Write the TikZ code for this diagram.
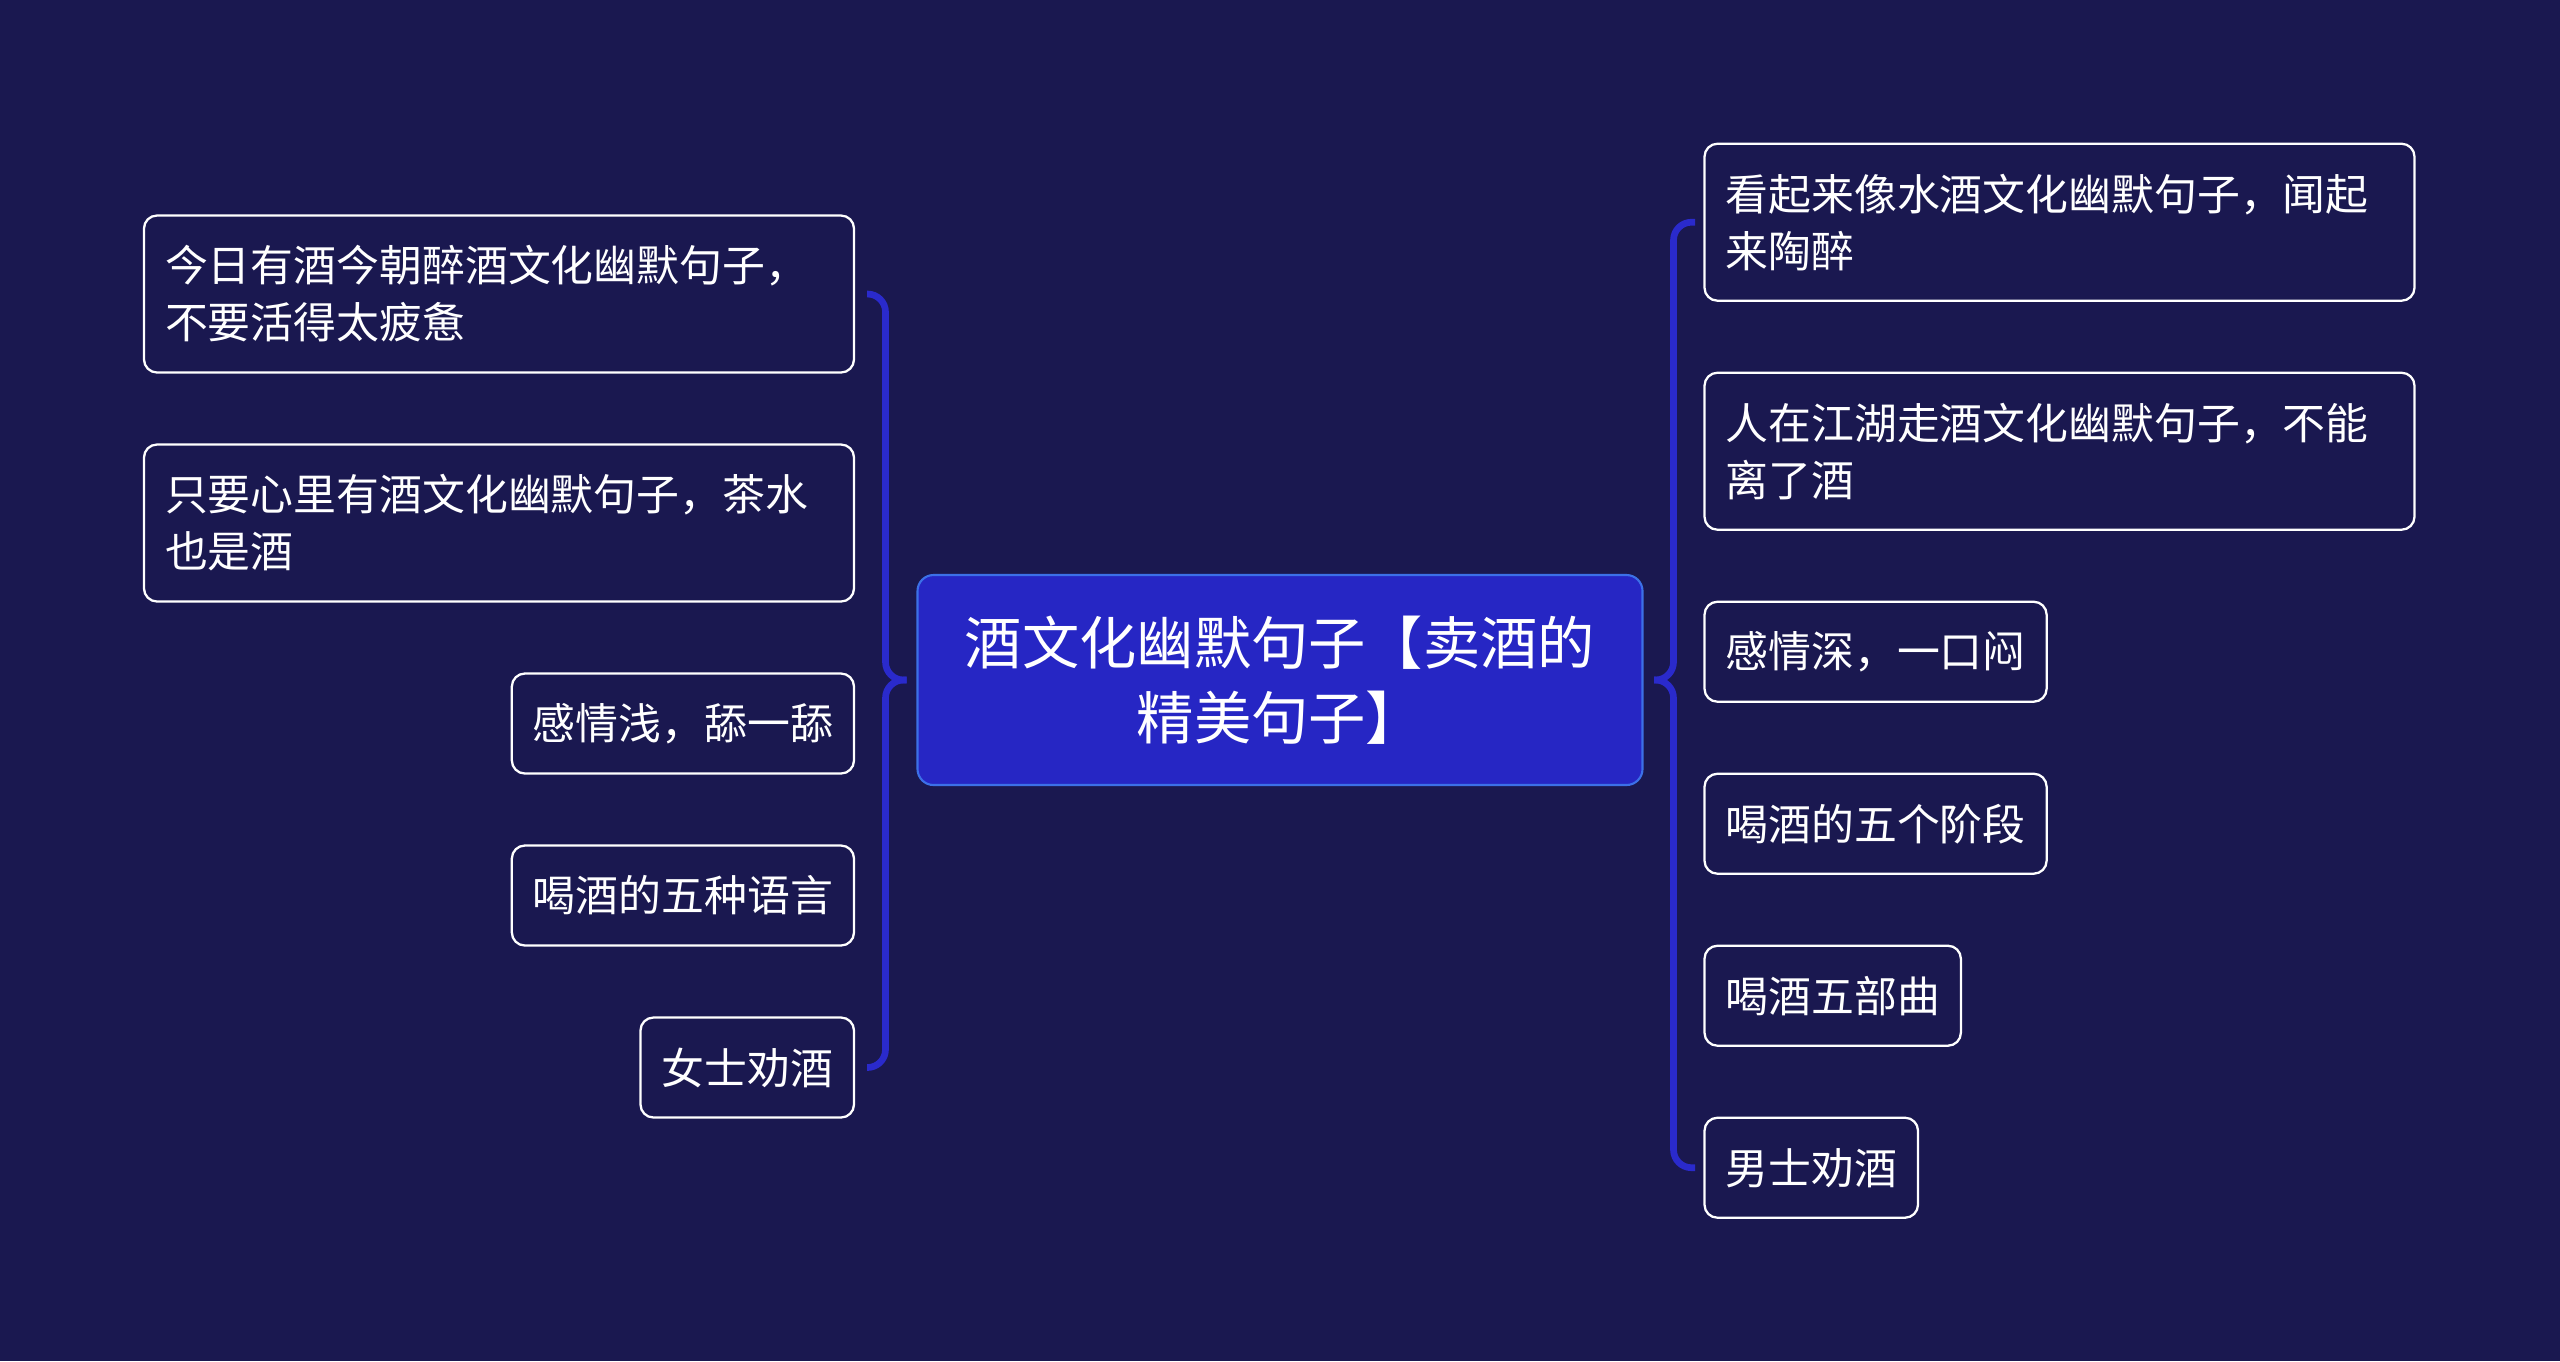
\documentclass[tikz,border=0pt]{standalone}
\usepackage{fontspec}
\newfontfamily\cjkfont{Noto Sans CJK SC}
\usetikzlibrary{positioning,calc}
\definecolor{bgnavy}{RGB}{26,24,80}
\definecolor{rootblue}{RGB}{38,38,196}
\definecolor{rootedge}{RGB}{60,112,232}
\definecolor{bracketblue}{RGB}{42,42,204}
\tikzset{
  leafbox/.style={draw=white, fill=bgnavy, text=white, rounded corners=1.3mm, line width=0.65pt, outer sep=0pt, minimum height=1cm, inner xsep=0.21cm, inner ysep=0pt, font=\cjkfont\fontsize{12.2pt}{16.2pt}\selectfont},
  leafwide/.style={leafbox, text width=6.68cm, align=left, minimum height=1.57cm},
  rootbox/.style={draw=rootedge, fill=rootblue, text=white, rounded corners=1.6mm, line width=0.6pt, outer sep=0pt, minimum width=7.25cm, minimum height=2.1cm, align=center, font=\cjkfont\fontsize{16.3pt}{21.3pt}\selectfont},
  bracket/.style={draw=bracketblue, line width=1.9pt, rounded corners=1.8mm},
}

\begin{document}
\begin{tikzpicture}[node distance=0.72cm and 0cm]
    \fill[bgnavy] (0,0) rectangle (25.6,-13.61);
    \useasboundingbox (0,0) rectangle (25.6,-13.61);
    \node[rootbox] (root) at (12.8,-6.8) {酒文化幽默句子【卖酒的\\精美句子】};
    \node[leafwide, anchor=north east] (l1) at (8.54,-2.155) {今日有酒今朝醉酒文化幽默句子，\\不要活得太疲惫};
    \node[leafwide, below left=of l1.south east] (l2) {只要心里有酒文化幽默句子，茶水\\也是酒};
    \node[leafbox, below left=of l2.south east] (l3) {感情浅，舔一舔};
    \node[leafbox, below left=of l3.south east] (l4) {喝酒的五种语言};
    \node[leafbox, below left=of l4.south east] (l5) {女士劝酒};
    \node[leafwide, anchor=north west] (r1) at (17.045,-1.437) {看起来像水酒文化幽默句子，闻起\\来陶醉};
    \node[leafwide, below right=of r1.south west] (r2) {人在江湖走酒文化幽默句子，不能\\离了酒};
    \node[leafbox, below right=of r2.south west] (r3) {感情深，一口闷};
    \node[leafbox, below right=of r3.south west] (r4) {喝酒的五个阶段};
    \node[leafbox, below right=of r4.south west] (r5) {喝酒五部曲};
    \node[leafbox, below right=of r5.south west] (r6) {男士劝酒};
    \draw[bracket] ([xshift=1.3mm]l1.east) -| ([xshift=-3.2mm]root.west) -- ([xshift=-1.1mm]root.west);
    \draw[bracket] ([xshift=-1.1mm]root.west) -- ([xshift=-3.2mm]root.west) |- ([xshift=1.3mm]l5.east);
    \draw[bracket] ([xshift=-0.95mm]r1.west) -| ([xshift=3.1mm]root.east) -- ([xshift=1.15mm]root.east);
    \draw[bracket] ([xshift=1.15mm]root.east) -- ([xshift=3.1mm]root.east) |- ([xshift=-0.95mm]r6.west);
\end{tikzpicture}
\end{document}
